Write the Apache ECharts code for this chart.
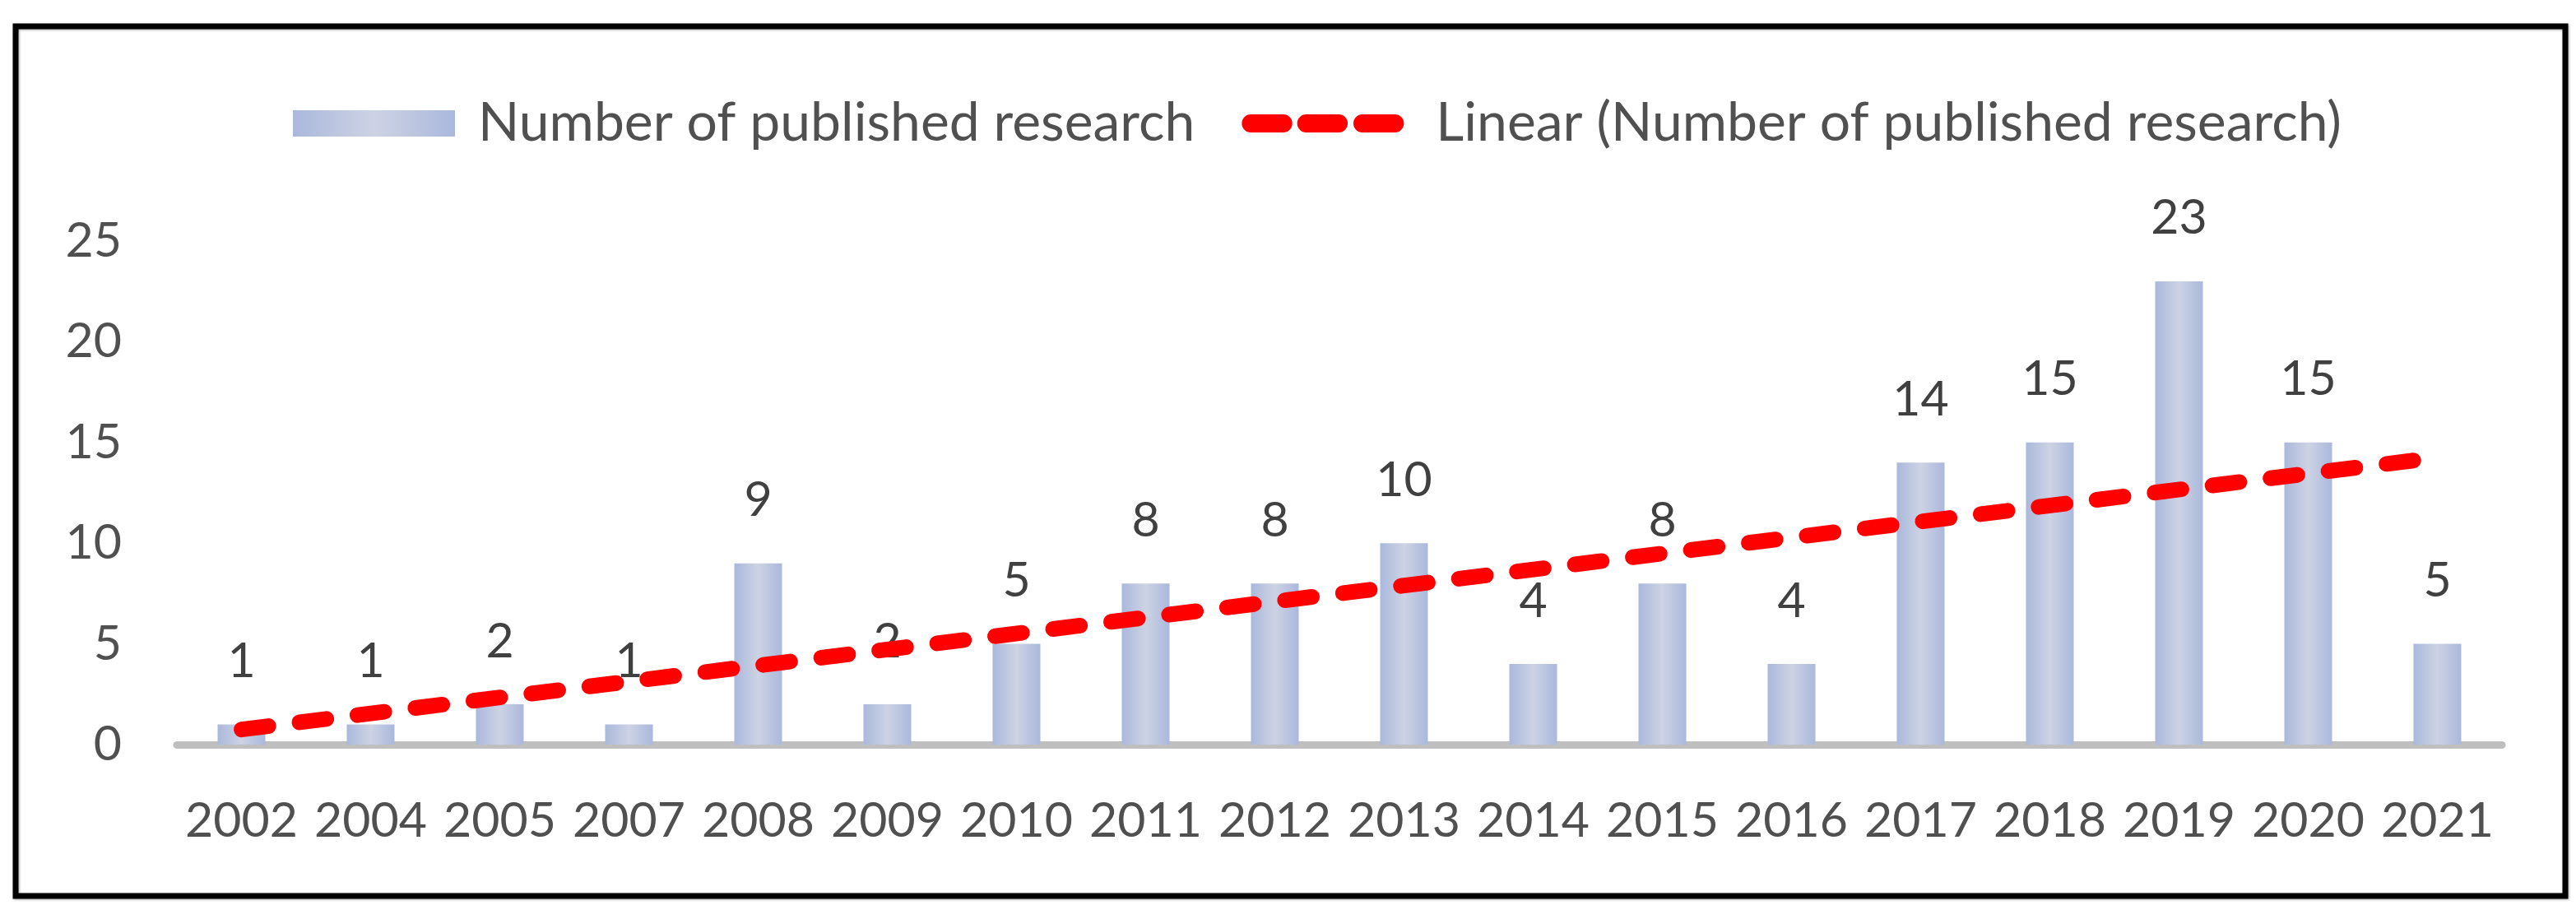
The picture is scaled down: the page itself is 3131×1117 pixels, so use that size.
<!DOCTYPE html>
<html>
<head>
<meta charset="utf-8">
<script src="https://cdn.jsdelivr.net/npm/echarts@6/dist/echarts.min.js"></script>
<style>
  html, body { margin: 0; padding: 0; background: #ffffff; }
  #chart { width: 3131px; height: 1117px; }
</style>
</head>
<body>
<div id="chart"></div>
<script>
// ---- data ----
const years = ['2002','2004','2005','2007','2008','2009','2010','2011','2012','2013','2014','2015','2016','2017','2018','2019','2020','2021'];
const publications = [1, 1, 2, 1, 9, 2, 5, 8, 8, 10, 4, 8, 4, 14, 15, 23, 15, 5];
// trendline end values (first and last category)
const trendStart = 0.75;
const trendEnd = 14.25;
const yTicks = [0, 5, 10, 15, 20, 25];

const barName = 'Number of published research';
const lineName = 'Linear (Number of published research)';

const trendData = years.map(function (_, i) {
  if (i === 0) return trendStart;
  if (i === years.length - 1) return trendEnd;
  return null;
});

const FONT = 'Lato, "Open Sans", sans-serif';

const chart = echarts.init(document.getElementById('chart'), null, { renderer: 'canvas' });

const dashIcon = 'path://M0 0 L0.01 0 M0 32 L0.01 32 ' +
  'M10 5 L50 5 A11 11 0 0 1 50 27 L10 27 A11 11 0 0 1 10 5 Z ' +
  'M78 5 L118 5 A11 11 0 0 1 118 27 L78 27 A11 11 0 0 1 78 5 Z ' +
  'M147 5 L187 5 A11 11 0 0 1 187 27 L147 27 A11 11 0 0 1 147 5 Z';

const option = {
  backgroundColor: '#ffffff',
  animation: false,
  graphic: [{
    type: 'rect',
    shape: { x: 19, y: 32, width: 3099, height: 1057 },
    style: { fill: 'none', stroke: '#000000', lineWidth: 7,
             shadowColor: 'rgba(0,0,0,0.35)', shadowBlur: 3, shadowOffsetX: 1, shadowOffsetY: 1 },
    z: 100
  }],
  legend: {
    left: 356,
    top: 117,
    padding: 0,
    itemWidth: 197,
    itemHeight: 32,
    itemGap: 57,
    textStyle: { fontFamily: FONT, fontSize: 66, color: '#505050', lineHeight: 66, padding: [0, 0, 0, 23] },
    data: [
      { name: barName, icon: 'rect' },
      { name: lineName, icon: dashIcon, itemStyle: { color: '#FF0000' },
        textStyle: { padding: [0, 0, 0, 34] } }
    ]
  },
  grid: {
    left: 215,
    right: 90,
    top: 293,
    bottom: 212,
    containLabel: false,
    outerBoundsMode: 'none'
  },
  xAxis: {
    type: 'category',
    data: years,
    axisLine: { show: true, lineStyle: { color: '#BFBFBF', width: 9 } },
    axisTick: { show: false },
    splitLine: { show: false },
    axisLabel: { fontFamily: FONT, fontSize: 59, color: '#505050', margin: 63, interval: 0 }
  },
  yAxis: {
    type: 'value',
    min: yTicks[0],
    max: yTicks[yTicks.length - 1],
    interval: yTicks[1] - yTicks[0],
    axisLine: { show: false },
    axisTick: { show: false },
    splitLine: { show: false },
    axisLabel: { fontFamily: FONT, fontSize: 59, color: '#505050', margin: 67 }
  },
  series: [
    {
      name: barName,
      type: 'bar',
      data: publications,
      barWidth: 58,
      z: 2,
      itemStyle: {
        color: {
          type: 'linear', x: 0, y: 0, x2: 1, y2: 0,
          colorStops: [
            { offset: 0, color: '#AAB8DC' },
            { offset: 0.5, color: '#CDD3E4' },
            { offset: 1, color: '#AAB8DC' }
          ]
        }
      },
      label: {
        show: true,
        position: 'top',
        distance: 47,
        fontFamily: FONT,
        fontSize: 59,
        color: '#404040'
      }
    },
    {
      name: lineName,
      type: 'line',
      data: trendData,
      connectNulls: true,
      symbol: 'none',
      z: 5,
      lineStyle: { color: '#FF0000', width: 19, type: [33, 38], cap: 'round' },
      itemStyle: { color: '#FF0000' }
    }
  ]
};

chart.setOption(option);
</script>
</body>
</html>
